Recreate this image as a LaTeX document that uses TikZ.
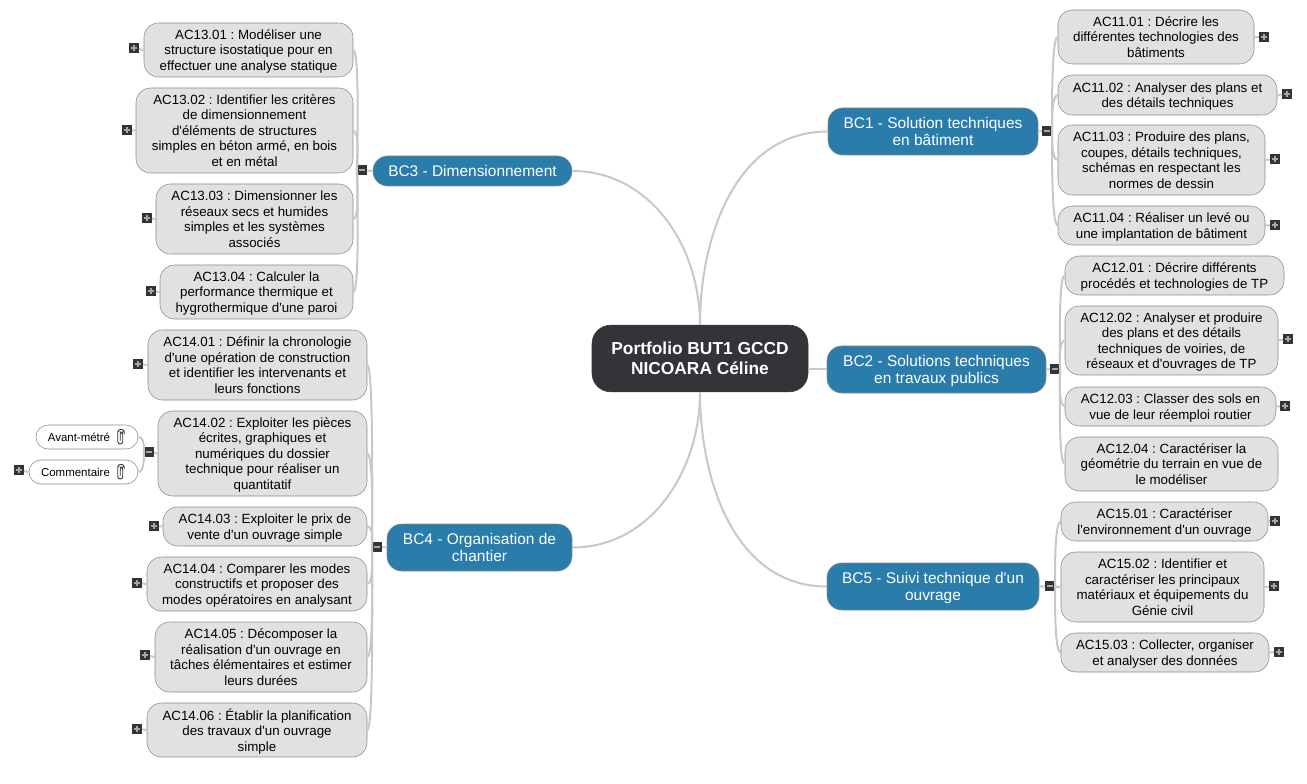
\documentclass[tikz,border=0pt]{standalone}
\usepackage{fontspec}
\setmainfont[Ligatures=TeXOff]{Liberation Sans}
\frenchspacing
\definecolor{linkgray}{HTML}{C8C8C8}
\definecolor{rootdark}{HTML}{333438}
\definecolor{bcblue}{HTML}{2A7DAA}
\definecolor{leafgray}{HTML}{E1E1E1}
\definecolor{edgegray}{HTML}{8A8A8A}
\tikzset{
  rootnode/.style={draw=rootdark,fill=rootdark,text=white,rounded corners=14pt,align=center,inner sep=0pt,
    minimum width=162pt,minimum height=50pt,font=\fontsize{13}{15.4}\selectfont\bfseries},
  bcnode/.style 2 args={draw=edgegray,fill=bcblue,text=white,rounded corners=11pt,align=center,inner sep=0pt,text depth=0pt,
    minimum width=#1*0.75pt,minimum height=#2*0.75pt,font=\fontsize{11.6}{12.75}\selectfont},
  leaf/.style 2 args={draw=edgegray,fill=leafgray,text=black,rounded corners=11pt,align=center,inner sep=0pt,text depth=0pt,
    minimum width=#1*0.75pt,minimum height=#2*0.75pt,font=\fontsize{10}{11.6}\selectfont},
  attach/.style 2 args={draw=edgegray,fill=white,text=black,rounded corners=9pt,align=center,inner sep=0pt,
    minimum width=#1*0.75pt,minimum height=#2*0.75pt,font=\fontsize{8.6}{10}\selectfont},
  link/.style={draw=linkgray,line width=1.5pt},
  spokeR/.style={out=0,in=180,out distance=0.1pt,in distance=5.25pt},
  spokeL/.style={out=180,in=0,out distance=0.1pt,in distance=5.25pt},
  tglbase/.style={fill=rootdark,inner sep=0pt,minimum size=7.2pt},
  tglminus/.style={tglbase,path picture={
    \draw[white!65!black,line width=1.2pt] (path picture bounding box.center) ++(-3,0) -- ++(6,0);}},
  tglplus/.style={tglbase,path picture={
    \draw[white!65!black,line width=1pt] (path picture bounding box.center) ++(-3,0) -- ++(6,0);
    \draw[white!65!black,line width=1pt] (path picture bounding box.center) ++(0,-3) -- ++(0,6);}},
  paperclip/.pic={
    \draw[black!80,line width=0.65pt,rounded corners=1.8pt] (-0.8,3.5) -- (-0.8,-5) -- (1.8,-5) -- (1.8,7) -- (-3.2,7) -- (-3.2,-7.5) -- (3.2,-7.5) -- (3.2,-3);
  },
}
\begin{document}
\begin{tikzpicture}[x=0.75pt,y=-0.75pt]
  \useasboundingbox (0,0) rectangle (1307,784);

  % Centre
  \node[rootnode] (root) at (700,358.5) {Portfolio BUT1 GCCD\\NICOARA Céline};

  % Branches
  \node[bcnode={210}{47}] (bc1) at (933,131.5) {BC1 - Solution techniques\\en bâtiment};
  \node[bcnode={219}{47}] (bc2) at (936.5,369.5) {BC2 - Solutions techniques\\en travaux publics};
  \node[bcnode={212}{47}] (bc5) at (933,586.5) {BC5 - Suivi technique d'un\\ouvrage};
  \node[bcnode={199}{30}] (bc3) at (472.5,171) {BC3 - Dimensionnement};
  \node[bcnode={185}{47}] (bc4) at (479.5,547.5) {BC4 - Organisation de\\chantier};

  % Leaves, right side
  \node[leaf={196}{54}] (ac1101) at (1156,37) {AC11.01 : Décrire les\\différentes technologies des\\bâtiments};
  \node[leaf={219}{40}] (ac1102) at (1167.5,95) {AC11.02 : Analyser des plans et\\des détails techniques};
  \node[leaf={207}{70}] (ac1103) at (1161.5,160) {AC11.03 : Produire des plans,\\coupes, détails techniques,\\schémas en respectant les\\normes de dessin};
  \node[leaf={207}{39}] (ac1104) at (1161.5,225.5) {AC11.04 : Réaliser un levé ou\\une implantation de bâtiment};
  \node[leaf={219}{39}] (ac1201) at (1174.5,275.5) {AC12.01 : Décrire différents\\procédés et technologies de TP};
  \node[leaf={213}{69}] (ac1202) at (1171.5,340.5) {AC12.02 : Analyser et produire\\des plans et des détails\\techniques de voiries, de\\réseaux et d'ouvrages de TP};
  \node[leaf={211}{39}] (ac1203) at (1170.5,406.5) {AC12.03 : Classer des sols en\\vue de leur réemploi routier};
  \node[leaf={213}{54}] (ac1204) at (1171.5,464) {AC12.04 : Caractériser la\\géométrie du terrain en vue de\\le modéliser};
  \node[leaf={207}{39}] (ac1501) at (1164.5,521.5) {AC15.01 : Caractériser\\l'environnement d'un ouvrage};
  \node[leaf={203}{70}] (ac1502) at (1162.5,587) {AC15.02 : Identifier et\\caractériser les principaux\\matériaux et équipements du\\Génie civil};
  \node[leaf={208}{39}] (ac1503) at (1165,652.5) {AC15.03 : Collecter, organiser\\et analyser des données};

  % Leaves, left side
  \node[leaf={209}{54}] (ac1301) at (248.5,50) {AC13.01 : Modéliser une\\structure isostatique pour en\\effectuer une analyse statique};
  \node[leaf={217}{85}] (ac1302) at (244.5,130.5) {AC13.02 : Identifier les critères\\de dimensionnement\\d'éléments de structures\\simples en béton armé, en bois\\et en métal};
  \node[leaf={197}{70}] (ac1303) at (254.5,219) {AC13.03 : Dimensionner les\\réseaux secs et humides\\simples et les systèmes\\associés};
  \node[leaf={193}{54}] (ac1304) at (256.5,292) {AC13.04 : Calculer la\\performance thermique et\\hygrothermique d'une paroi};
  \node[leaf={219}{70}] (ac1401) at (257.5,365) {AC14.01 : Définir la chronologie\\d'une opération de construction\\et identifier les intervenants et\\leurs fonctions};
  \node[leaf={209}{85}] (ac1402) at (262.5,453.5) {AC14.02 : Exploiter les pièces\\écrites, graphiques et\\numériques du dossier\\technique pour réaliser un\\quantitatif};
  \node[leaf={204}{39}] (ac1403) at (265,526.5) {AC14.03 : Exploiter le prix de\\vente d'un ouvrage simple};
  \node[leaf={220}{54}] (ac1404) at (257,584) {AC14.04 : Comparer les modes\\constructifs et proposer des\\modes opératoires en analysant};
  \node[leaf={212}{70}] (ac1405) at (261,657) {AC14.05 : Décomposer la\\réalisation d'un ouvrage en\\tâches élémentaires et estimer\\leurs durées};
  \node[leaf={220}{54}] (ac1406) at (257,730) {AC14.06 : Établir la planification\\des travaux d'un ouvrage\\simple};

  % Attachments
  \node[attach={102}{24}] (avant) at (87,437) {Avant-métré\hspace{12pt}};
  \node[attach={109}{24}] (comment) at (83.5,472) {Commentaire\hspace{12pt}};
  \pic at (121,437) {paperclip};
  \pic at (121,472) {paperclip};

  % Toggles
  \node[tglminus] (tbc1) at (1047,131) {};
  \node[tglminus] (tbc2) at (1055,369) {};
  \node[tglminus] (tbc5) at (1050,586) {};
  \node[tglminus] (tbc3) at (362,170) {};
  \node[tglminus] (tbc4) at (377,547) {};
  \node[tglminus] (tac1402) at (149,452) {};

  \node[tglplus] (tac1101) at (1264,37) {};
  \node[tglplus] (tac1102) at (1287,94) {};
  \node[tglplus] (tac1103) at (1275,159) {};
  \node[tglplus] (tac1104) at (1275,225) {};
  \node[tglplus] (tac1202) at (1288,339) {};
  \node[tglplus] (tac1203) at (1285,406) {};
  \node[tglplus] (tac1501) at (1275,521) {};
  \node[tglplus] (tac1502) at (1274,586) {};
  \node[tglplus] (tac1503) at (1279,652) {};
  \node[tglplus] (tac1301) at (134,48) {};
  \node[tglplus] (tac1302) at (127,130) {};
  \node[tglplus] (tac1303) at (147,218) {};
  \node[tglplus] (tac1304) at (151,291) {};
  \node[tglplus] (tac1401) at (138,364) {};
  \node[tglplus] (tac1403) at (154,526) {};
  \node[tglplus] (tac1404) at (137,583) {};
  \node[tglplus] (tac1405) at (145,655) {};
  \node[tglplus] (tac1406) at (137,729) {};
  \node[tglplus] (tcomment) at (19,470) {};

  % Centre to branches
  \draw[link] (root.north) to[out=90,in=180] (bc1.west);
  \draw[link] (root.north) to[out=90,in=0] (bc3.east);
  \draw[link] (root.south) to[out=-90,in=180] (bc5.west);
  \draw[link] (root.south) to[out=-90,in=0] (bc4.east);
  \draw[link] (bc2.west -| root.east) -- (bc2.west);

  % Branches to toggles
  \draw[link] (bc1.east) -- (tbc1);
  \draw[link] (bc2.east) -- (tbc2);
  \draw[link] (bc5.east) -- (tbc5);
  \draw[link] (bc3.west) -- (tbc3);
  \draw[link] (bc4.west) -- (tbc4);
  \draw[link] (ac1402.west) -- (tac1402);

  % Toggles to leaves
  \draw[link] (tbc1.east) to[spokeR] (ac1101.west);
  \draw[link] (tbc1.east) to[spokeR] (ac1102.west);
  \draw[link] (tbc1.east) to[spokeR] (ac1103.west);
  \draw[link] (tbc1.east) to[spokeR] (ac1104.west);
  \draw[link] (tbc2.east) to[spokeR] (ac1201.west);
  \draw[link] (tbc2.east) to[spokeR] (ac1202.west);
  \draw[link] (tbc2.east) to[spokeR] (ac1203.west);
  \draw[link] (tbc2.east) to[spokeR] (ac1204.west);
  \draw[link] (tbc5.east) to[spokeR] (ac1501.west);
  \draw[link] (tbc5.east) to[spokeR] (ac1502.west);
  \draw[link] (tbc5.east) to[spokeR] (ac1503.west);
  \draw[link] (tbc3.west) to[spokeL] (ac1301.east);
  \draw[link] (tbc3.west) to[spokeL] (ac1302.east);
  \draw[link] (tbc3.west) to[spokeL] (ac1303.east);
  \draw[link] (tbc3.west) to[spokeL] (ac1304.east);
  \draw[link] (tbc4.west) to[spokeL] (ac1401.east);
  \draw[link] (tbc4.west) to[spokeL] (ac1402.east);
  \draw[link] (tbc4.west) to[spokeL] (ac1403.east);
  \draw[link] (tbc4.west) to[spokeL] (ac1404.east);
  \draw[link] (tbc4.west) to[spokeL] (ac1405.east);
  \draw[link] (tbc4.west) to[spokeL] (ac1406.east);
  \draw[link] (tac1402.west) to[spokeL] (avant.east);
  \draw[link] (tac1402.west) to[spokeL] (comment.east);

  % Leaves to plus marks
  \draw[link] (ac1101.east) -- (tac1101);
  \draw[link] (ac1102.east) -- (tac1102);
  \draw[link] (ac1103.east) -- (tac1103);
  \draw[link] (ac1104.east) -- (tac1104);
  \draw[link] (ac1202.east) -- (tac1202);
  \draw[link] (ac1203.east) -- (tac1203);
  \draw[link] (ac1501.east) -- (tac1501);
  \draw[link] (ac1502.east) -- (tac1502);
  \draw[link] (ac1503.east) -- (tac1503);
  \draw[link] (ac1301.west) -- (tac1301);
  \draw[link] (ac1302.west) -- (tac1302);
  \draw[link] (ac1303.west) -- (tac1303);
  \draw[link] (ac1304.west) -- (tac1304);
  \draw[link] (ac1401.west) -- (tac1401);
  \draw[link] (ac1403.west) -- (tac1403);
  \draw[link] (ac1404.west) -- (tac1404);
  \draw[link] (ac1405.west) -- (tac1405);
  \draw[link] (ac1406.west) -- (tac1406);
  \draw[link] (comment.west) -- (tcomment);
\end{tikzpicture}
\end{document}
